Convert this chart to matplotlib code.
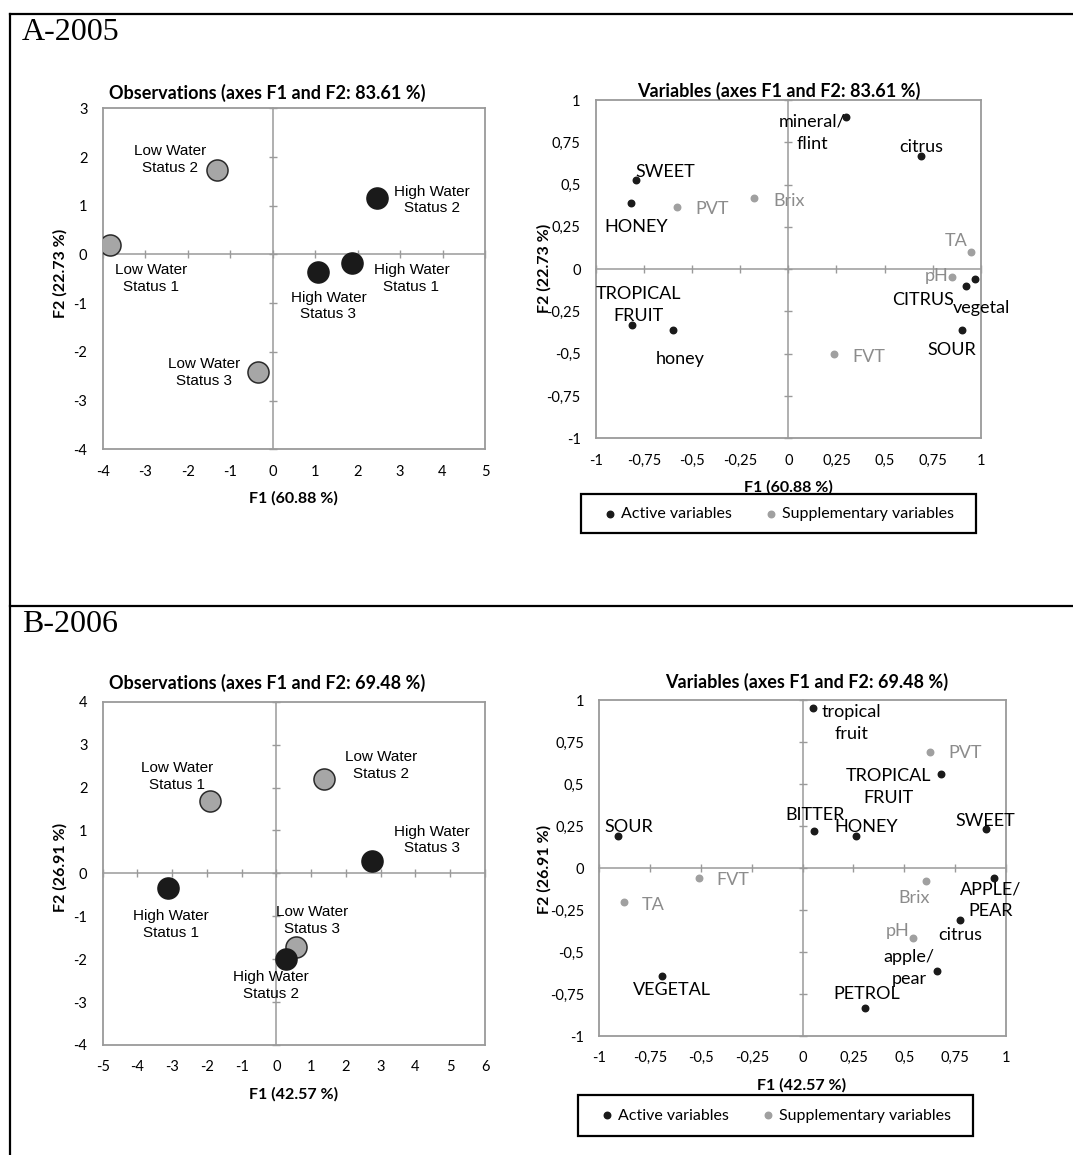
import matplotlib
matplotlib.use("Agg")
import matplotlib.pyplot as plt
from matplotlib.lines import Line2D
from matplotlib.patches import Rectangle
from matplotlib.ticker import MultipleLocator, FuncFormatter

plt.rcParams["axes.unicode_minus"] = False

# ---- data ----
obs_names = ["Low Water\nStatus 1", "Low Water\nStatus 2", "Low Water\nStatus 3",
             "High Water\nStatus 1", "High Water\nStatus 2", "High Water\nStatus 3"]
obs_water = ["low", "low", "low", "high", "high", "high"]

obs_f1_2005 = [-3.83, -1.30, -0.35, 1.88, 2.46, 1.08]
obs_f2_2005 = [0.19, 1.74, -2.41, -0.18, 1.16, -0.36]

obs_f1_2006 = [-1.91, 1.37, 0.56, -3.13, 0.27, 2.74]
obs_f2_2006 = [1.69, 2.19, -1.72, -0.33, -2.00, 0.29]

var_names_2005 = ["mineral/\nflint", "citrus", "SWEET", "HONEY", "TROPICAL\nFRUIT", "honey",
                  "CITRUS", "vegetal", "SOUR", "PVT", "Brix", "TA", "pH", "FVT"]
var_f1_2005 = [0.30, 0.69, -0.79, -0.82, -0.815, -0.60, 0.925, 0.97, 0.905,
               -0.58, -0.18, 0.95, 0.85, 0.235]
var_f2_2005 = [0.90, 0.67, 0.53, 0.39, -0.33, -0.36, -0.10, -0.06, -0.36,
               0.37, 0.42, 0.10, -0.045, -0.50]
var_active_2005 = [True] * 9 + [False] * 5

var_names_2006 = ["tropical\nfruit", "TROPICAL\nFRUIT", "SWEET", "BITTER", "HONEY", "SOUR",
                  "APPLE/\nPEAR", "citrus", "apple/\npear", "PETROL", "VEGETAL",
                  "PVT", "FVT", "TA", "Brix", "pH"]
var_f1_2006 = [0.05, 0.68, 0.90, 0.055, 0.26, -0.91, 0.94, 0.775, 0.66, 0.305, -0.69,
               0.625, -0.51, -0.88, 0.605, 0.545]
var_f2_2006 = [0.95, 0.56, 0.23, 0.22, 0.19, 0.19, -0.06, -0.31, -0.615, -0.835, -0.64,
               0.69, -0.06, -0.20, -0.075, -0.415]
var_active_2006 = [True] * 11 + [False] * 5

# ---- label placement (pixel offsets from the point) ----
obs_off_2005 = [(41, -33), (-47, 10), (-54, -1), (59, -15), (55, -2), (10, -34)]
obs_off_2006 = [(-33, 24), (57, 14), (16, 27), (3, -37), (-15, -26), (60, 21)]
var_off_2005 = [(-34, -16), (0, 9), (29, 8), (6, -24), (7, 20), (7, -29), (-43, -14),
                (7, -29), (-11, -20), (35, -2), (35, -3), (-15, 11), (-15, 1), (35, -3)]
var_off_2006 = [(39, -15), (-52, -13), (0, 8), (1, 16), (11, 9), (11, 9), (-3, -22),
                (0, -15), (-28, 3), (2, 14), (10, -14), (35, -1), (34, -2), (29, -3),
                (-12, -17), (-16, 7)]

# ---- style ----
UI = "Lato"
GRID = "#9a9a9a"
DARK = "#1a1a1a"
LIGHT = "#a6a6a6"
SUPP = "#a0a0a0"
SUPP_TXT = "#8c8c8c"

W, H = 1073, 1155
fig = plt.figure(figsize=(W / 100, H / 100), dpi=100)


def px_axes(left, top, right, bottom):
    return [left / W, 1 - bottom / H, (right - left) / W, (bottom - top) / H]


def comma(v, pos):
    return ("%g" % v).replace(".", ",")


def setup(rect, xlim, ylim, step, title, title_x, title_pad, xlabel, xl_pos, ylabel, yl_pos,
          fmt=None):
    ax = fig.add_axes(rect)
    ax.set_xlim(*xlim)
    ax.set_ylim(*ylim)
    ax.xaxis.set_major_locator(MultipleLocator(step))
    ax.yaxis.set_major_locator(MultipleLocator(step))
    if fmt:
        ax.xaxis.set_major_formatter(FuncFormatter(fmt))
        ax.yaxis.set_major_formatter(FuncFormatter(fmt))
    ax.tick_params(length=0, labelsize=10.5, pad=11)
    for lab in ax.get_xticklabels() + ax.get_yticklabels():
        lab.set_fontfamily(UI)
    for s in ax.spines.values():
        s.set_color(GRID)
        s.set_linewidth(1.3)
    ax.patch.set_visible(False)
    ax.set_title(title, fontfamily=UI, fontweight="bold", fontsize=13, x=title_x, pad=title_pad)
    ax.set_xlabel(xlabel, fontfamily=UI, fontweight="bold", fontsize=11.5, va="center")
    ax.xaxis.set_label_coords(*xl_pos)
    ax.set_ylabel(ylabel, fontfamily=UI, fontweight="bold", fontsize=11.5, va="center",
                  ha="center")
    ax.yaxis.set_label_coords(*yl_pos)

    # axis lines through the origin with cross ticks
    zax = fig.add_axes(rect, sharex=ax, sharey=ax)
    zax.patch.set_visible(False)
    zax.spines["top"].set_visible(False)
    zax.spines["right"].set_visible(False)
    for side in ("left", "bottom"):
        zax.spines[side].set_position(("data", 0))
        zax.spines[side].set_color(GRID)
        zax.spines[side].set_linewidth(1.1)
    zax.tick_params(direction="inout", length=6, color=GRID, width=1,
                    labelleft=False, labelbottom=False)
    zax.set_zorder(ax.get_zorder() - 1)
    return ax


def observations(ax, f1, f2, offsets):
    for name, x, y, w, off in zip(obs_names, f1, f2, obs_water, offsets):
        face = LIGHT if w == "low" else DARK
        edge = "#2a2a2a" if w == "low" else DARK
        ax.scatter([x], [y], s=230, color=face, edgecolors=edge, linewidths=1.1, zorder=3)
        ax.annotate(name, (x, y), xytext=off, textcoords="offset pixels", ha="center",
                    va="center", fontsize=11, fontfamily="Liberation Sans", color="black",
                    linespacing=1.25, zorder=4)


def variables(ax, names, f1, f2, active, offsets, box):
    act = sup = None
    for name, x, y, a, off in zip(names, f1, f2, active, offsets):
        col = DARK if a else SUPP
        sc = ax.scatter([x], [y], s=22, color=col, zorder=3)
        if a:
            act = sc
        else:
            sup = sc
        ax.annotate(name, (x, y), xytext=off, textcoords="offset pixels", ha="center",
                    va="center", fontsize=13, fontfamily=UI,
                    color="black" if a else SUPP_TXT, linespacing=1.45, zorder=4)
    # legend frame
    left, top, right, bottom = box
    fig.add_artist(Rectangle((left / W, 1 - bottom / H), (right - left) / W, (bottom - top) / H,
                             transform=fig.transFigure, facecolor="white",
                             edgecolor="black", linewidth=1.6, zorder=2))
    fig.legend([act, sup], ["Active variables", "Supplementary variables"],
               loc="center",
               bbox_to_anchor=((left + 25) / W, 1 - bottom / H, (right - left - 47) / W,
                               (bottom - top) / H),
               mode="expand", ncol=2, prop={"family": UI, "size": 11.5}, frameon=False,
               handlelength=0.5, handletextpad=0.45, borderpad=0, borderaxespad=0,
               markerscale=1.0)


# ---- A-2005 ----
ax1 = setup(px_axes(102.7, 108.3, 485, 449.3), (-4, 5), (-4, 3), 1,
            "Observations (axes F1 and F2: 83.61 %)", 0.43, 7,
            "F1 (60.88 %)", (0.498, -0.143), "F2 (22.73 %)", (-0.112, 0.515))
observations(ax1, obs_f1_2005, obs_f2_2005, obs_off_2005)

ax2 = setup(px_axes(596, 100, 980.7, 438.3), (-1, 1), (-1, 1), 0.25,
            "Variables (axes F1 and F2: 83.61 %)", 0.476, 2,
            "F1 (60.88 %)", (0.5, -0.145), "F2 (22.73 %)", (-0.133, 0.503), fmt=comma)
variables(ax2, var_names_2005, var_f1_2005, var_f2_2005, var_active_2005, var_off_2005,
          (580.7, 494, 976, 533.3))

# ---- B-2006 ----
ax3 = setup(px_axes(102.7, 701.7, 485, 1045), (-5, 6), (-4, 4), 1,
            "Observations (axes F1 and F2: 69.48 %)", 0.43, 9,
            "F1 (42.57 %)", (0.498, -0.143), "F2 (26.91 %)", (-0.112, 0.516))
observations(ax3, obs_f1_2006, obs_f2_2006, obs_off_2006)

ax4 = setup(px_axes(599.3, 700, 1006, 1036), (-1, 1), (-1, 1), 0.25,
            "Variables (axes F1 and F2: 69.48 %)", 0.511, 9,
            "F1 (42.57 %)", (0.498, -0.146), "F2 (26.91 %)", (-0.134, 0.497), fmt=comma)
variables(ax4, var_names_2006, var_f1_2006, var_f2_2006, var_active_2006, var_off_2006,
          (578, 1095, 973, 1136))

# ---- table frame and section headings ----
x_left = 10 / W
y_top = 1 - 13.5 / H
y_mid = 1 - 606 / H
for xs, ys in [((x_left, 1), (y_top, y_top)), ((x_left, x_left), (0, y_top)),
               ((x_left, 1), (y_mid, y_mid))]:
    fig.add_artist(Line2D(xs, ys, color="black", linewidth=1.6))

fig.text(22 / W, 1 - 32 / H, "A-2005", fontfamily="Liberation Serif", fontsize=23, va="center")
fig.text(22 / W, 1 - 625 / H, "B-2006", fontfamily="Liberation Serif", fontsize=23, va="center")

fig.savefig("out.png", dpi=100)
